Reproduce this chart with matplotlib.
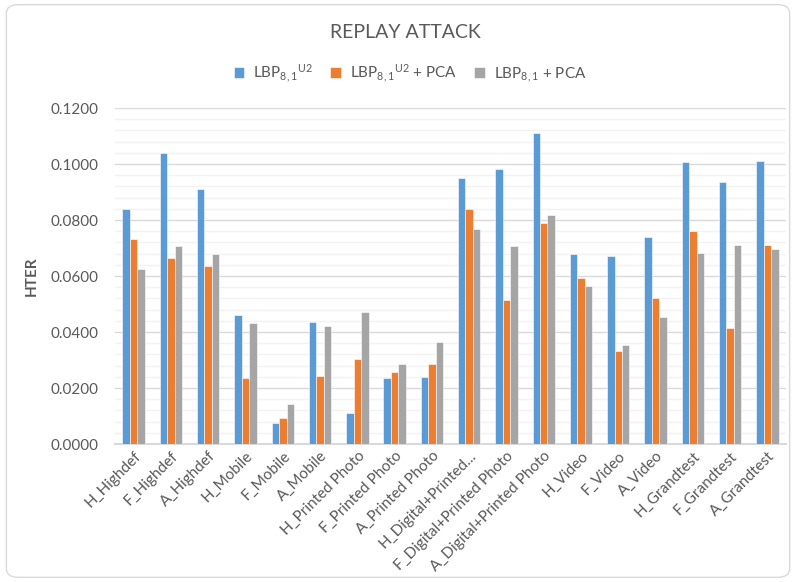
import numpy as np
import matplotlib
matplotlib.use("Agg")
import matplotlib.pyplot as plt
from matplotlib.patches import FancyBboxPatch
from matplotlib.ticker import MultipleLocator, FormatStrFormatter

plt.rcParams['font.family'] = ['Lato', 'DejaVu Sans']
plt.rcParams['mathtext.fontset'] = 'custom'
plt.rcParams['mathtext.rm'] = 'Lato'

categories = ['H_Highdef', 'F_Highdef', 'A_Highdef', 'H_Mobile', 'F_Mobile', 'A_Mobile',
              'H_Printed Photo', 'F_Printed Photo', 'A_Printed Photo', 'H_Digital+Printed...',
              'F_Digital+Printed Photo', 'A_Digital+Printed Photo', 'H_Video', 'F_Video',
              'A_Video', 'H_Grandtest', 'F_Grandtest', 'A_Grandtest']

lbp_u2 = [0.0840, 0.1038, 0.0909, 0.0462, 0.0075, 0.0436, 0.0111, 0.0236, 0.0238,
          0.0951, 0.0983, 0.1112, 0.0680, 0.0672, 0.0738, 0.1006, 0.0937, 0.1012]
lbp_u2_pca = [0.0731, 0.0666, 0.0634, 0.0236, 0.0093, 0.0243, 0.0305, 0.0256, 0.0286,
              0.0839, 0.0514, 0.0789, 0.0592, 0.0332, 0.0521, 0.0760, 0.0414, 0.0709]
lbp_pca = [0.0625, 0.0707, 0.0677, 0.0433, 0.0144, 0.0422, 0.0472, 0.0286, 0.0363,
           0.0769, 0.0707, 0.0817, 0.0565, 0.0352, 0.0453, 0.0682, 0.0710, 0.0697]

series_names = [r'$\mathregular{LBP_{8,1}{}^{U2}}$',
                r'$\mathregular{LBP_{8,1}{}^{U2}}$ + PCA',
                r'$\mathregular{LBP_{8,1}}$ + PCA']
colors = ['#5B9BD5', '#ED7D31', '#A5A5A5']

fig = plt.figure(figsize=(7.96, 5.82), dpi=100)
border = FancyBboxPatch((0.008, 0.008), 0.984, 0.984, boxstyle="round,pad=0,rounding_size=0.015",
                        transform=fig.transFigure, facecolor='white', edgecolor='#D9D9D9',
                        linewidth=1.0, zorder=-1)
fig.patches.append(border)

ax = fig.add_axes([0.1445, 0.2371, 0.843, 0.5773])
x = np.arange(len(categories))
w = 0.2
for i, (vals, name, c) in enumerate(zip([lbp_u2, lbp_u2_pca, lbp_pca], series_names, colors)):
    ax.bar(x + (i - 1) * w, vals, w, color=c, label=name, edgecolor='white', linewidth=0.4, zorder=3)

ax.set_xlim(-0.5, len(categories) - 0.5)
ax.set_ylim(0, 0.12)
ax.yaxis.set_major_locator(MultipleLocator(0.02))
ax.yaxis.set_minor_locator(MultipleLocator(0.004))
ax.yaxis.set_major_formatter(FormatStrFormatter('%.4f'))
ax.grid(axis='y', which='major', color='#D9D9D9', linewidth=1.0, zorder=0)
ax.grid(axis='y', which='minor', color='#F2F2F2', linewidth=1.0, zorder=0)
ax.set_axisbelow(True)
for s in ['top', 'right', 'left']:
    ax.spines[s].set_visible(False)
ax.spines['bottom'].set_color('#D9D9D9')
ax.spines['bottom'].set_linewidth(1.5)
ax.tick_params(axis='both', which='both', length=0, colors='#595959', labelsize=11)
ax.tick_params(axis='y', pad=12)

ax.set_xticks(x)
ax.set_xticklabels(categories, rotation=45, ha='right', rotation_mode='anchor')
ax.set_ylabel('HTER', fontsize=11, fontweight='bold', color='#595959', labelpad=8)

fig.text(0.509, 0.945, 'REPLAY ATTACK', ha='center', va='center', fontsize=14, color='#595959')
leg = fig.legend(loc='center', bbox_to_anchor=(0.515, 0.874), ncol=3, frameon=False,
                 fontsize=11, handlelength=0.7, handleheight=0.7, columnspacing=1.1,
                 handletextpad=0.6)
for t in leg.get_texts():
    t.set_color('#595959')

fig.savefig('out.png', dpi=100)
